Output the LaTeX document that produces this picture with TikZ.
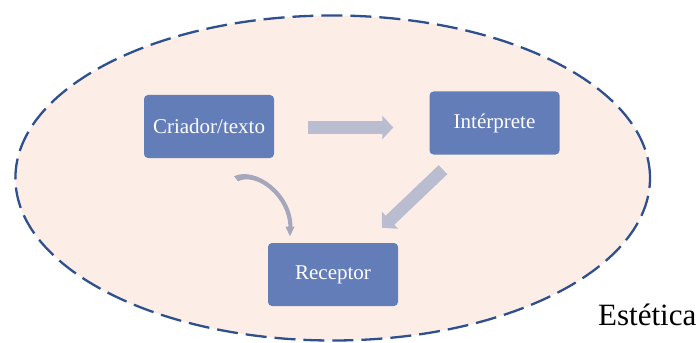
\documentclass[tikz,border=0pt]{standalone}
\usepackage{fontspec}
\setmainfont{Liberation Serif}
\usetikzlibrary{arrows.meta,calc}
\definecolor{boxblue}{RGB}{99,125,184}
\definecolor{ellfill}{RGB}{252,238,230}
\definecolor{ellline}{RGB}{47,80,143}
\definecolor{arrowgray}{RGB}{186,188,208}
\definecolor{curvegray}{RGB}{166,167,188}
\tikzset{
  procbox/.style={draw=none, fill=boxblue, rounded corners=4pt, minimum width=130pt, minimum height=63pt, inner sep=0pt, text=white, font=\fontsize{21}{24}\selectfont},
  bigarrow/.style={draw=arrowgray, line width=12.5pt, -{Triangle[length=11pt,width=23pt]}},
}
\begin{document}
\begin{tikzpicture}[x=1pt,y=-1pt]
\useasboundingbox (0,0) rectangle (700,342);
\fill[white] (0,0) rectangle (700,342);
\draw[ellline, fill=ellfill, line width=2.3pt, dash pattern=on 21pt off 8pt] (332.7,178) ellipse [x radius=317.3pt, y radius=162.5pt];
\node[procbox] (crit) at (209,126.5) {Criador/texto};
\node[procbox] (interp) at (494.5,123) {Intérprete};
\node[procbox] (recep) at (333,274.5) {Receptor};
\node[anchor=base west, inner sep=0pt, font=\fontsize{31}{36}\selectfont] (est) at (598,325) {Estética};
\draw[bigarrow, shorten <=34pt, shorten >=36pt] ([yshift=-1pt]crit.east) -- ([yshift=-1pt]crit.east -| interp.west);
\draw[bigarrow] ($(interp.south)+(-51.5,15)$) -- ($(recep.north)+(49,-15)$);
\coordinate (cs) at ($(crit.south)+(25,18)$);
\begin{scope}[shift={(cs)}]
\fill[curvegray] (0,0) .. controls (22,-10) and (58.5,17) .. (58.5,51) -- (54.5,51) .. controls (54,21) and (23,-4) .. (4,5) -- cycle;
\fill[curvegray] (51.5,50.5) -- (60.5,50.5) -- (56,60) -- cycle;
\end{scope}
\end{tikzpicture}
\end{document}
